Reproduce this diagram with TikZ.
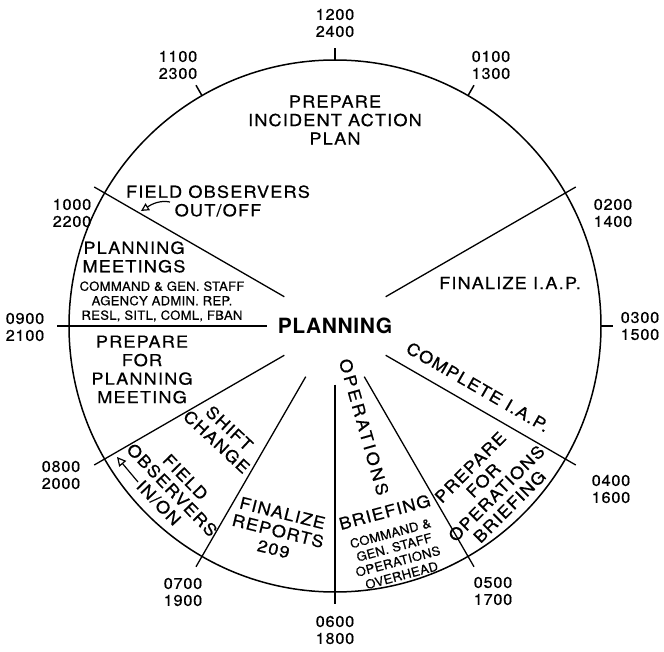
\documentclass[tikz,border=0pt]{standalone}
\usepackage{fontspec}
\usetikzlibrary{arrows.meta}
\newfontfamily\hv{TeX Gyre Heros}[LetterSpace=7, FakeStretch=1.1, FakeBold=0.6]
\newfontfamily\hvt{TeX Gyre Heros}[LetterSpace=5, FakeStretch=1.05, FakeBold=0.6]
\newfontfamily\hvs{TeX Gyre Heros}[LetterSpace=2, FakeStretch=1.05, FakeBold=0.5]
\newfontfamily\hvo{TeX Gyre Heros}[LetterSpace=16, FakeStretch=1.1, FakeBold=0.6]
\newfontfamily\hvb{TeX Gyre Heros}[LetterSpace=3]
\begin{document}
\begin{tikzpicture}[x=1pt,y=1pt,
  ring/.style={line width=1.5pt},
  spoke/.style={line width=1.3pt},
  big/.style={font=\hv\fontsize{16.5}{18.5}\selectfont, align=center, inner sep=0pt},
  tlabel/.style={font=\hvt\fontsize{15.5}{17}\selectfont, align=center, inner sep=0pt},
  small/.style={font=\hvs\fontsize{12.5}{14.5}\selectfont, align=center, inner sep=0pt},
  opsf/.style={font=\hvo\fontsize{16.5}{18}\selectfont, inner sep=0pt},
  title/.style={font=\hvb\bfseries\fontsize{21}{24}\selectfont, inner sep=0pt},
  openarrow/.style={line width=1.2pt, -{Triangle[open, length=9pt, width=9pt]}},
  smallarrow/.style={line width=1.2pt, -{Triangle[open, length=8pt, width=8pt]}}
]
\useasboundingbox (-335,-325) rectangle (329,326);
\coordinate (c) at (0,0);
% circle and ticks
\draw[ring] (c) circle (266);
\foreach \a in {0,60,90,120}
  \draw[ring] (\a:266) -- (\a:278);
% spokes
\foreach \a in {30,150,210,240,270,300,330}
  \draw[spoke] (\a:58.5) -- (\a:278);
\draw[spoke] (180:68) -- (180:278);

% time labels
\node[tlabel] (t12) at (0,303) {1200\\2400};
\node[tlabel] (t11) at (-157,261) {1100\\2300};
\node[tlabel] (t01) at (156,261) {0100\\1300};
\node[tlabel] (t10) at (-263,113) {1000\\2200};
\node[tlabel] (t02) at (278,113) {0200\\1400};
\node[tlabel] (t09) at (-310,-1) {0900\\2100};
\node[tlabel] (t03) at (305,0) {0300\\1500};
\node[tlabel] (t08) at (-274,-149) {0800\\2000};
\node[tlabel] (t04) at (276,-163) {0400\\1600};
\node[tlabel] (t07) at (-152,-266) {0700\\1900};
\node[tlabel] (t05) at (158,-265) {0500\\1700};
\node[tlabel] (t06) at (0,-304) {0600\\1800};

% center
\node[title] (plan) at (0,0.5) {PLANNING};

% sectors
\node[big] (iap) at (0,206) {PREPARE\\INCIDENT ACTION\\PLAN};
\node[big] (fout) at (-117,125) {FIELD OBSERVERS\\OUT/OFF};
\coordinate (fa1) at (-165,124);
\coordinate (fa2) at (-194,115);
\draw[smallarrow] (fa1) .. controls (-175,126) and (-183,122) .. (fa2);

\node[big] (pm) at (-201,69) {PLANNING\\MEETINGS};
\node[small] (pms) at (-173,24.5) {COMMAND \& GEN. STAFF\\AGENCY ADMIN. REP.\\RESL, SITL, COML, FBAN};
\node[big] (ppm) at (-193,-43.5) {PREPARE\\FOR\\PLANNING\\MEETING};

\node[big, rotate=-43] (shift) at (-112,-109) {SHIFT\\CHANGE};
\node[big, rotate=-46] (fin) at (-163,-164) {FIELD\\OBSERVERS\\IN/ON};
\coordinate (fb1) at (-197,-156);
\coordinate (fb2) at (-218,-131);
\draw[openarrow] (fb1) -- (fb2);

\node[big, rotate=-14] (frep) at (-57,-205) {FINALIZE\\REPORTS\\209};
\node[opsf, rotate=-74] (ops) at (29,-101) {OPERATIONS};
\node[small, rotate=15] (brf) at (58,-217)
  {{\hv\fontsize{16.5}{18}\selectfont BRIEFING}\\[6pt]COMMAND \&\\GEN. STAFF\\OPERATIONS\\OVERHEAD};
\node[big, rotate=45] (pob) at (155,-161) {PREPARE\\FOR\\OPERATIONS\\BRIEFING};
\node[big, rotate=-30] (ciap) at (143,-61) {COMPLETE I.A.P.};
\node[big] (fiap) at (175,43) {FINALIZE I.A.P.};
\end{tikzpicture}
\end{document}
